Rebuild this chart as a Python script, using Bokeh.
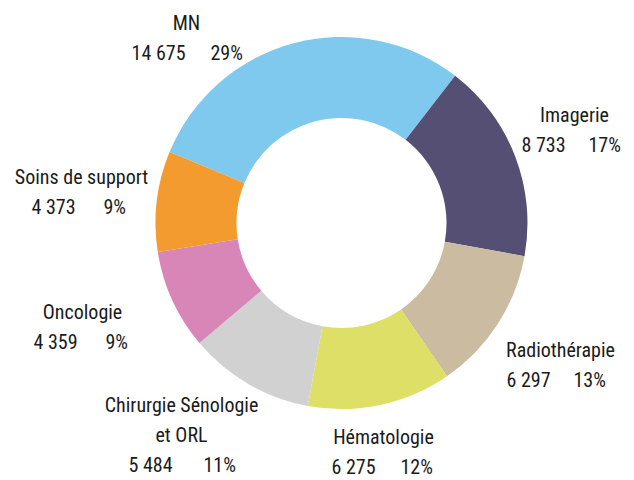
from bokeh.plotting import figure
from bokeh.models import Range1d, ColumnDataSource
from bokeh.core.properties import value
from bokeh.embed import file_html
from bokeh.resources import INLINE

# ---- data ----
categories = ["MN", "Imagerie", "Radiothérapie", "Hématologie",
              "Chirurgie Sénologie et ORL", "Oncologie", "Soins de support"]
label_lines = [["MN"], ["Imagerie"], ["Radiothérapie"], ["Hématologie"],
               ["Chirurgie Sénologie", "et ORL"], ["Oncologie"], ["Soins de support"]]
counts = [14675, 8733, 6297, 6275, 5484, 4359, 4373]
percents = [29, 17, 13, 12, 11, 9, 9]
colors = ["#7FC9EF", "#544F73", "#CBBBA1", "#DDDF66", "#D1D1D1", "#D886B7", "#F39B2E"]

# ---- layout (image pixel coordinates, y downward) ----
W, H = 634, 480
CX, CY = 341, 222.5
R_OUT, R_IN = 186, 105
START_CLOCK = -67.6  # degrees clockwise from 12 o'clock where the first slice starts
LINE_H = 30
TEXT_DY = -7.5
# name centre x, first baseline y, number right edge x, percent left edge x
label_pos = [
    (186, 29.5, 185, 210),
    (574, 121.5, 565, 588),
    (560, 356.5, 550, 573),
    (383, 443.5, 375, 400),
    (181, 411.5, 172, 203),
    (82, 318.5, 77, 105),
    (81, 183.5, 75, 103),
]

FONT = value("Roboto Condensed")
TXT_COLOR = "#1b1b1b"
FS = "20px"


def Y(img_y):
    return H - img_y


p = figure(width=W, height=H, output_backend="svg", toolbar_location=None,
           title=None,
           x_range=Range1d(0, W), y_range=Range1d(0, H),
           min_border=0, outline_line_color=None)
p.xaxis.visible = False
p.yaxis.visible = False
p.grid.visible = False
p.background_fill_color = "white"
p.border_fill_color = "white"

total = sum(counts)
starts, ends = [], []
cum = 0.0
for c in counts:
    a0 = START_CLOCK + 360.0 * cum / total
    cum += c
    a1 = START_CLOCK + 360.0 * cum / total
    # convert clockwise-from-top to math (anticlockwise from +x)
    starts.append(90.0 - a1)
    ends.append(90.0 - a0)

src = ColumnDataSource(dict(x=[CX] * len(counts), y=[Y(CY)] * len(counts),
                            start=starts, end=ends, color=colors))
p.annular_wedge(x="x", y="y", inner_radius=R_IN, outer_radius=R_OUT,
                start_angle="start", end_angle="end",
                start_angle_units="deg", end_angle_units="deg",
                fill_color="color", line_color=None, source=src)

nx, ny, nt = [], [], []
vx, vy, vt = [], [], []
px_, py_, pt = [], [], []
for lines, cnt, pc, (lx, ly, nr, pl) in zip(label_lines, counts, percents, label_pos):
    for i, ln in enumerate(lines):
        nx.append(lx)
        ny.append(Y(ly + i * LINE_H + TEXT_DY))
        nt.append(ln)
    vb = ly + len(lines) * LINE_H + TEXT_DY
    vx.append(nr)
    vy.append(Y(vb))
    vt.append(f"{cnt:,}".replace(",", " "))
    px_.append(pl)
    py_.append(Y(vb))
    pt.append(f"{pc}%")

common = dict(text_font=FONT, text_font_size=FS, text_color=TXT_COLOR,
              text_baseline="alphabetic")
p.text(x=nx, y=ny, text=nt, text_align="center", **common)
p.text(x=vx, y=vy, text=vt, text_align="right", **common)
p.text(x=px_, y=py_, text=pt, text_align="left", **common)

open("out.html", "w").write(file_html(p, INLINE))
